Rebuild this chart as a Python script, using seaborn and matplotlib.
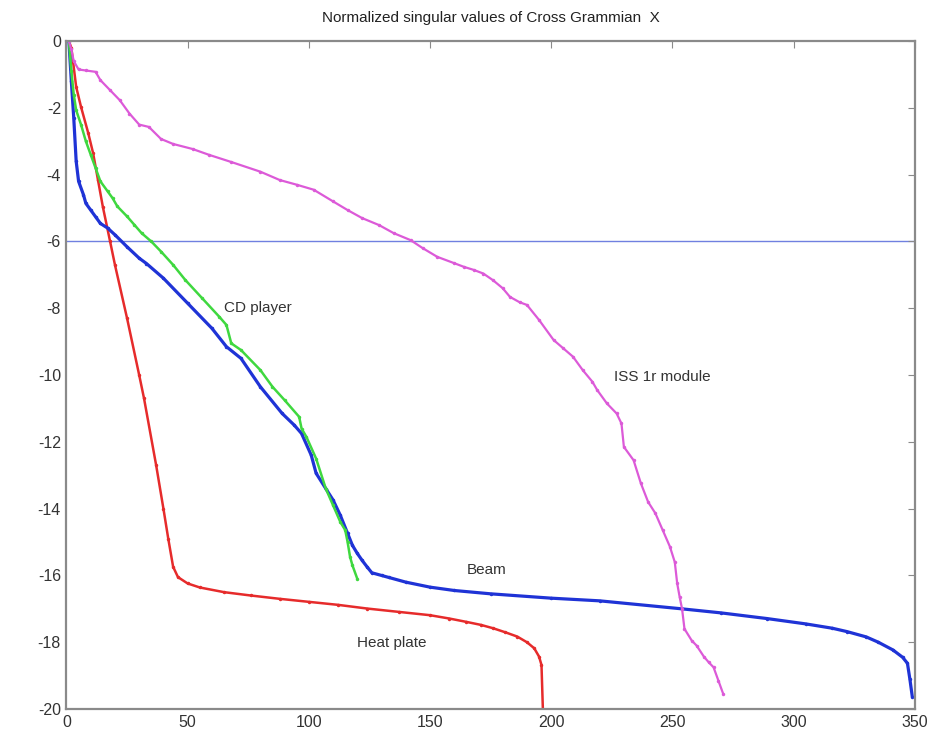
import matplotlib
matplotlib.use("Agg")
import matplotlib.pyplot as plt
import seaborn as sns
import pandas as pd

# ---- data ----
heat_x = [1, 2, 4, 6, 9, 11, 13, 15, 18, 20, 25, 30, 32, 37, 40, 42, 44, 46, 50, 55, 65, 76, 88,
          100, 112, 124, 137, 150, 158, 165, 171, 176, 181, 186, 190, 193, 195, 196, 197]
heat_y = [0, -0.2, -1.37, -1.97, -2.76, -3.36, -4.16, -4.96, -6.0, -6.7, -8.3, -10.0, -10.7, -12.7,
          -14.0, -14.9, -15.74, -16.05, -16.24, -16.36, -16.5, -16.6, -16.7, -16.79, -16.88, -16.99,
          -17.09, -17.19, -17.29, -17.39, -17.48, -17.58, -17.7, -17.83, -18.0, -18.18, -18.43,
          -18.68, -21.0]

beam_x = [1, 2, 3, 4, 5, 7, 8, 10, 12, 14, 17, 20, 25, 30, 33, 40, 50, 60, 66, 72, 80, 89, 94, 97,
          101, 103, 107, 110, 113, 116, 118, 120, 122, 124, 126, 130, 133, 140, 150, 160, 175, 200,
          220, 254, 270, 289, 305, 316, 322, 330, 335, 341, 345, 347, 348, 349]
beam_y = [0, -1.2, -2.3, -3.6, -4.2, -4.6, -4.86, -5.06, -5.26, -5.46, -5.6, -5.8, -6.16, -6.5,
          -6.66, -7.1, -7.85, -8.6, -9.15, -9.5, -10.35, -11.15, -11.5, -11.75, -12.4, -12.94,
          -13.4, -13.74, -14.2, -14.74, -15.1, -15.34, -15.55, -15.74, -15.92, -16.0, -16.06,
          -16.2, -16.35, -16.45, -16.55, -16.68, -16.76, -17.0, -17.12, -17.29, -17.45, -17.58,
          -17.68, -17.84, -18.0, -18.23, -18.45, -18.63, -19.1, -19.63]

cd_x = [1, 2, 3, 4, 6, 8, 10, 12, 14, 17, 19, 21, 25, 28, 31, 35, 39, 44, 49, 56, 63, 66, 68, 72,
        80, 85, 90, 96, 97, 99, 103, 107, 110, 113, 115, 116, 117, 118, 120]
cd_y = [0, -0.9, -1.6, -2.07, -2.5, -3.0, -3.4, -3.8, -4.2, -4.5, -4.7, -4.95, -5.25, -5.5, -5.75,
        -6.0, -6.3, -6.7, -7.15, -7.7, -8.25, -8.5, -9.05, -9.25, -9.85, -10.35, -10.75, -11.25,
        -11.6, -11.85, -12.5, -13.4, -13.9, -14.4, -14.64, -15.0, -15.44, -15.7, -16.1]

iss_x = [1, 2, 3, 5, 8, 12, 14, 18, 22, 26, 30, 34, 39, 44, 52, 59, 68, 80, 88, 95, 102, 110, 116,
         122, 129, 135, 142, 147, 153, 160, 164, 168, 172, 176, 180, 183, 187, 190, 195, 201, 205,
         209, 213, 217, 219, 223, 227, 229, 230, 234, 237, 240, 243, 246, 249, 251, 252, 253, 254,
         255, 258, 260, 263, 265, 267, 269, 271]
iss_y = [0, -0.25, -0.6, -0.85, -0.88, -0.92, -1.17, -1.47, -1.77, -2.17, -2.5, -2.57, -2.93, -3.08,
         -3.23, -3.41, -3.62, -3.91, -4.16, -4.3, -4.45, -4.8, -5.06, -5.3, -5.51, -5.75, -5.96,
         -6.2, -6.46, -6.65, -6.76, -6.85, -6.96, -7.16, -7.4, -7.66, -7.82, -7.9, -8.35, -8.95,
         -9.2, -9.45, -9.85, -10.2, -10.45, -10.85, -11.15, -11.45, -12.15, -12.55, -13.24, -13.8,
         -14.14, -14.64, -15.14, -15.6, -16.24, -16.64, -17.0, -17.6, -17.95, -18.1, -18.43,
         -18.6, -18.75, -19.15, -19.55]

threshold = -6
title = "Normalized singular values of Cross Grammian  X"
labels = {"CD player": (65, -8.0), "ISS 1r module": (226, -10.05),
          "Beam": (165, -15.84), "Heat plate": (120, -18.02)}
x_ticks = [0, 50, 100, 150, 200, 250, 300, 350]
y_ticks = [0, -2, -4, -6, -8, -10, -12, -14, -16, -18, -20]

# ---- styling ----
sns.set_style("white")
plt.rcParams["font.family"] = ["Liberation Sans", "DejaVu Sans"]
plt.rcParams["axes.unicode_minus"] = False

fig = plt.figure(figsize=(9.43, 7.34), dpi=100)
ax = fig.add_axes([0.0705, 0.034, 0.8995, 0.910])

series = [
    (heat_x, heat_y, "#e62b2b", 1.8),
    (beam_x, beam_y, "#1f33d6", 2.3),
    (cd_x, cd_y, "#3fd83f", 1.8),
    (iss_x, iss_y, "#dc5ad8", 1.6),
]
for xs, ys, col, lw in series:
    df = pd.DataFrame({"k": xs, "s": ys})
    sns.lineplot(data=df, x="k", y="s", ax=ax, color=col, lw=lw, sort=False,
                 estimator=None, marker="o", markersize=2.5, markeredgewidth=0,
                 markerfacecolor=col, clip_on=True)

ax.axhline(threshold, color="#7080e0", lw=1.0, zorder=0)

for txt, (tx, ty) in labels.items():
    ax.text(tx, ty, txt, fontsize=11, color="#333333", va="center", ha="left")

ax.set_xlim(0, 350)
ax.set_ylim(-20, 0)
ax.set_xticks(x_ticks)
ax.set_yticks(y_ticks)
ax.set_xlabel("")
ax.set_ylabel("")
ax.set_title(title, fontsize=11, color="#222222", pad=14)

for sp in ax.spines.values():
    sp.set_color("#8a8a8a")
    sp.set_linewidth(1.6)
ax.tick_params(direction="in", length=5, width=0.8, color="#8a8a8a",
               top=True, right=True, labelsize=11.5, labelcolor="#333333", pad=4)

fig.savefig("out.png", dpi=100, facecolor="white")
